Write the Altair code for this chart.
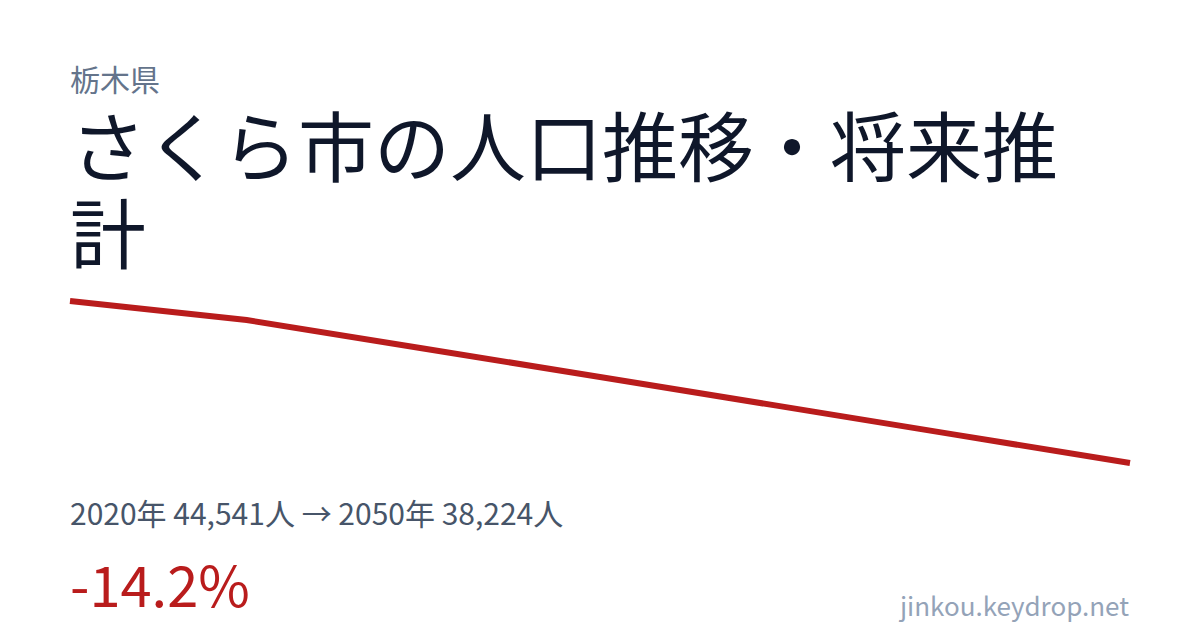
import altair as alt
import pandas as pd

years = [2020, 2025, 2030, 2035, 2040, 2045, 2050]
population = [44541, 43800, 42690, 41580, 40460, 39340, 38224]

prefecture = "栃木県"
title_lines = ["さくら市の人口推移・将来推", "計"]
summary = "2020年 44,541人 → 2050年 38,224人"
change = "-14.2%"
site = "jinkou.keydrop.net"

FONT = "Noto Sans CJK JP"
W, H = 1184, 614

df = pd.DataFrame({"year": years, "pop": population})

line = alt.Chart(df).mark_line(color="#b91c1c", strokeWidth=6).encode(
    x=alt.X("year:Q", axis=None,
            scale=alt.Scale(domain=[min(years), max(years)], range=[62, 1122], nice=False, zero=False)),
    y=alt.Y("pop:Q", axis=None,
            scale=alt.Scale(domain=[min(population), max(population)], range=[455, 293], nice=False, zero=False)),
)

def txt(text, x, y, size, color, align="left"):
    return alt.Chart(pd.DataFrame({"t": [text]})).mark_text(
        font=FONT, fontSize=size, color=color, align=align, baseline="alphabetic"
    ).encode(text="t:N", x=alt.value(x), y=alt.value(y))

layers = [
    line,
    txt(prefecture, 62, 83, 30, "#64748b"),
    txt(title_lines[0], 62, 168, 76, "#0f172a"),
    txt(title_lines[1], 62, 255, 76, "#0f172a"),
    txt(summary, 62, 517, 30, "#475569"),
    txt(change, 62, 599, 56, "#b91c1c"),
    txt(site, 1121, 608, 26, "#94a3b8", align="right"),
]

chart = alt.layer(*layers).properties(
    width=W, height=H, autosize=alt.AutoSizeParams(type="none"), padding=0,
    background="white"
).configure_view(stroke=None)

chart.save("out.html", embed_options={"renderer": "svg", "actions": False})
